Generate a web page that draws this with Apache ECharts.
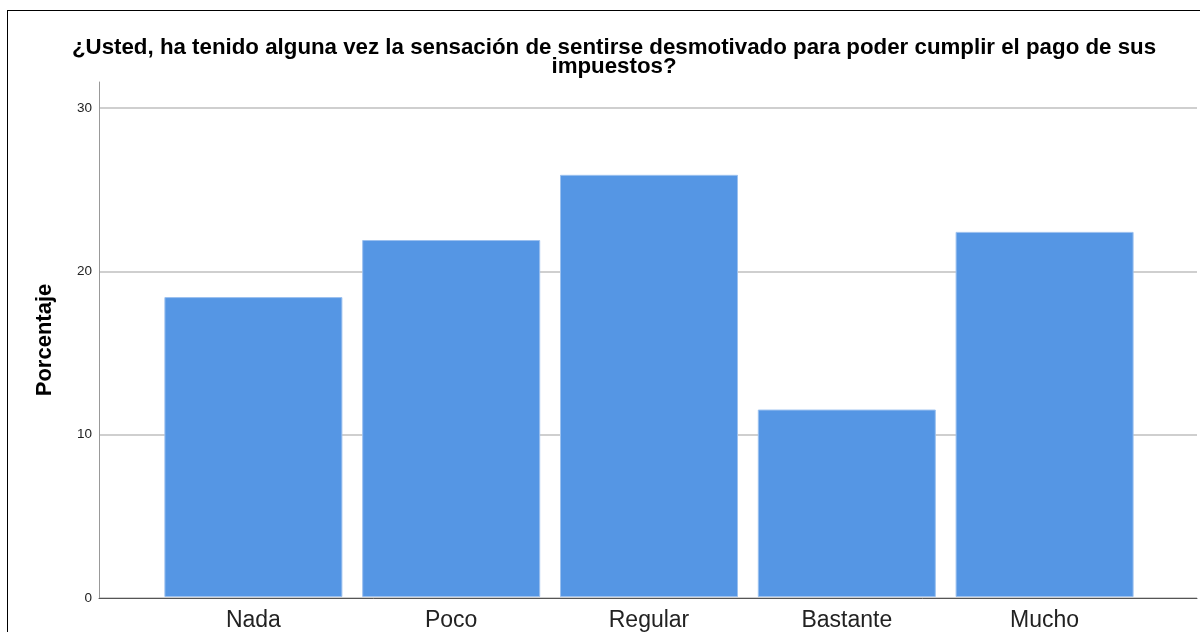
<!DOCTYPE html>
<html>
<head>
<meta charset="utf-8">
<script src="https://cdn.jsdelivr.net/npm/echarts@6/dist/echarts.min.js"></script>
<style>
  html, body { margin: 0; padding: 0; background: #fff; overflow: hidden; }
  #frame { position: absolute; left: 7px; top: 10px; width: 1300px; height: 700px; border: 1px solid #000; }
  #chart { position: absolute; left: 0; top: 0; width: 1200px; height: 632px; }
</style>
</head>
<body>
<div id="frame"></div>
<div id="chart"></div>
<script>
// datos
const categorias = ['Nada', 'Poco', 'Regular', 'Bastante', 'Mucho'];
const porcentajes = [18.4, 21.9, 25.9, 11.5, 22.4];
const yMax = 30;
const yStep = 10;

const titulo = '¿Usted, ha tenido alguna vez la sensación de sentirse desmotivado para poder cumplir el pago de sus\nimpuestos?';

const chart = echarts.init(document.getElementById('chart'));

const option = {
  animation: false,
  title: {
    text: titulo,
    left: 609,
    textAlign: 'center',
    top: 33,
    textStyle: { fontFamily: 'Liberation Sans', fontWeight: 'bold', fontSize: 22.3, color: '#000', lineHeight: 19 },
  },
  grid: [
    // solo la linea del eje y (llega mas arriba que el 30)
    { left: 99, right: 3, top: 82, bottom: 34 },
    // lineas de division y etiquetas
    { left: 99, right: 3, top: 108, bottom: 34 },
    // barras
    { left: 154.5, right: 56.5, top: 108, bottom: 34 },
  ],
  xAxis: [
    { gridIndex: 0, type: 'value', show: false },
    {
      gridIndex: 1, type: 'value', min: 0, max: 1,
      axisLine: { show: true, lineStyle: { color: '#555', width: 1 } },
      axisTick: { show: false }, axisLabel: { show: false }, splitLine: { show: false },
    },
    {
      gridIndex: 2, type: 'category', data: categorias,
      axisLine: { show: false }, axisTick: { show: false },
      axisLabel: { margin: 12, fontFamily: 'Liberation Sans', fontSize: 23, color: '#222' },
    },
  ],
  yAxis: [
    {
      gridIndex: 0, type: 'value', min: 0, max: 31.6,
      name: 'Porcentaje', nameLocation: 'middle', nameGap: 43,
      nameTextStyle: { fontFamily: 'Liberation Sans', fontWeight: 'bold', fontSize: 22, color: '#000' },
      axisLine: { show: true, lineStyle: { color: '#999', width: 1 } },
      axisTick: { show: false }, axisLabel: { show: false }, splitLine: { show: false },
    },
    {
      gridIndex: 1, type: 'value', min: 0, max: yMax, interval: yStep,
      axisLine: { show: false }, axisTick: { show: false },
      axisLabel: { margin: 7, fontFamily: 'Liberation Sans', fontSize: 13.5, color: '#222' },
      splitLine: { show: true, lineStyle: { color: '#cfcfcf', width: 2 } },
    },
    { gridIndex: 2, type: 'value', min: 0, max: yMax, show: false },
  ],
  series: [
    {
      type: 'bar',
      xAxisIndex: 2,
      yAxisIndex: 2,
      data: porcentajes,
      barWidth: 178,
      itemStyle: { color: '#5596e4', borderColor: '#9cc1ef', borderWidth: 1 },
    },
  ],
};

chart.setOption(option);
</script>
</body>
</html>
